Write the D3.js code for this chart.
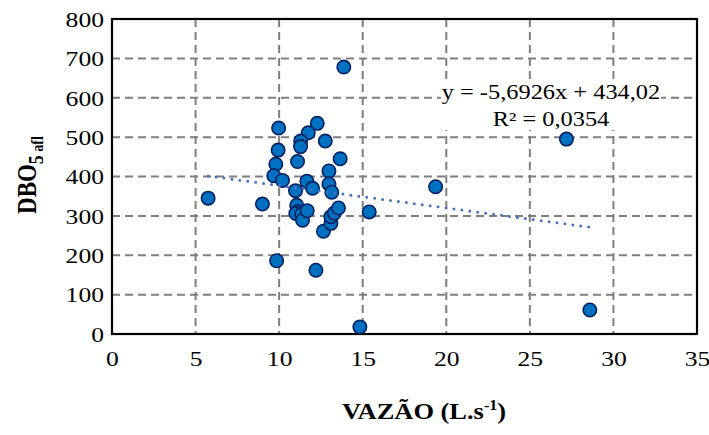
<!DOCTYPE html>
<html>
<head>
<meta charset="utf-8">
<script src="https://cdn.jsdelivr.net/npm/d3@7"></script>
<style>
  body { margin: 0; background: #fff; }
  text { font-family: "Liberation Serif", "Times New Roman", serif; fill: #000; }
</style>
</head>
<body>
<svg id="chart" width="709" height="435"></svg>
<script>
// Flow (L/s) and BOD5 of the influent (mg/L) for each sample
const vazao = [5.75, 9.0, 9.85, 12.2, 14.83, 19.36, 27.19, 28.59, 13.87, 9.97,
  12.28, 11.74, 11.29, 11.28, 12.76, 9.94, 9.8, 11.1, 13.65, 9.68,
  10.2, 12.98, 12.98, 11.66, 12.0, 10.98, 13.15, 15.39, 11.05, 11.12,
  11.0, 11.34, 11.4, 11.68, 12.65, 13.1, 13.1, 13.3, 13.55];
const dbo = [345, 330, 186, 162, 18, 374, 495, 61, 678, 523,
  535, 511, 490, 476, 490, 467, 431, 438, 445, 402,
  390, 414, 381, 388, 370, 364, 360, 310, 327, 311,
  306, 304, 289, 313, 261, 281, 298, 307, 320];

const xTicks = [0, 5, 10, 15, 20, 25, 30, 35];
const yTicks = [0, 100, 200, 300, 400, 500, 600, 700, 800];

// Linear trendline fitted to the data
const slope = -5.6926, intercept = 434.02;
const eqLabel = "y = -5,6926x + 434,02";
const r2Label = "R² = 0,0354";

const svg = d3.select("#chart");
const plot = { left: 112, right: 697, top: 19, bottom: 334 };
const stretch = 1.22; // wide letterform used for all labels

const x = d3.scaleLinear().domain([0, 35]).range([plot.left, plot.right]);
const y = d3.scaleLinear().domain([0, 800]).range([plot.bottom, plot.top]);

// dashed gridlines
const grid = svg.append("g").attr("stroke", "#7f7f7f").attr("stroke-width", 2)
  .attr("stroke-dasharray", "8,5");
grid.selectAll("line.v").data(xTicks.slice(1, -1)).join("line")
  .attr("x1", d => x(d)).attr("x2", d => x(d))
  .attr("y1", plot.top).attr("y2", plot.bottom);
grid.selectAll("line.h").data(yTicks.slice(1, -1)).join("line")
  .attr("x1", plot.left).attr("x2", plot.right)
  .attr("y1", d => y(d)).attr("y2", d => y(d));

// plot frame
svg.append("rect")
  .attr("x", plot.left).attr("y", plot.top)
  .attr("width", plot.right - plot.left).attr("height", plot.bottom - plot.top)
  .attr("fill", "none").attr("stroke", "#000").attr("stroke-width", 2.2);

// axes (labels only)
const xAxis = svg.append("g").attr("transform", `translate(0,${plot.bottom})`)
  .call(d3.axisBottom(x).tickValues(xTicks).tickSize(0).tickPadding(0).tickFormat(d3.format("d")));
xAxis.select(".domain").remove();
xAxis.selectAll("text")
  .attr("y", 32).attr("dy", 0)
  .attr("transform", `scale(${stretch},1)`)
  .style("font-size", "21px").style("font-family", "Liberation Serif");

const yAxis = svg.append("g").attr("transform", `translate(${plot.left},0)`)
  .call(d3.axisLeft(y).tickValues(yTicks).tickSize(0).tickPadding(0).tickFormat(d3.format("d")));
yAxis.select(".domain").remove();
yAxis.selectAll("text")
  .attr("x", -8 / stretch).attr("dy", "0.35em")
  .attr("transform", `scale(${stretch},1)`)
  .style("font-size", "21px").style("font-family", "Liberation Serif");

// data points
const pts = vazao.map((v, i) => ({ v, d: dbo[i] }));
svg.append("g").selectAll("circle").data(pts).join("circle")
  .attr("cx", p => x(p.v)).attr("cy", p => y(p.d)).attr("r", 6.7)
  .attr("fill", "#0070C0").attr("stroke", "#002060").attr("stroke-width", 1.6);

// dotted trendline across the observed flow range
const [xmin, xmax] = d3.extent(vazao);
svg.append("line")
  .attr("x1", x(xmin)).attr("y1", y(slope * xmin + intercept))
  .attr("x2", x(xmax)).attr("y2", y(slope * xmax + intercept))
  .attr("stroke", "#4472C4").attr("stroke-width", 3)
  .attr("stroke-linecap", "round").attr("stroke-dasharray", "0,8");

// equation label
const eq = svg.append("g").attr("transform", "translate(551,0)");
eq.append("rect").attr("x", -110).attr("y", 82).attr("width", 220).attr("height", 48).attr("fill", "#fff");
[[eqLabel, 99], [r2Label, 126]].forEach(([t, by]) => {
  eq.append("text").attr("transform", `translate(0,${by}) scale(${stretch},1)`)
    .attr("text-anchor", "middle").style("font-size", "20px").text(t);
});

// axis titles
const xt = svg.append("text")
  .attr("transform", `translate(424,419) scale(1.15,1)`)
  .attr("text-anchor", "middle").style("font-size", "23px").style("font-weight", "bold");
xt.append("tspan").text("VAZÃO (L.s");
xt.append("tspan").attr("dy", -9).style("font-size", "14px").text("-1");
xt.append("tspan").attr("dy", 9).text(")");

const yt = svg.append("text")
  .attr("transform", `translate(36,175) scale(1.15,1) rotate(-90)`)
  .attr("text-anchor", "middle").style("font-weight", "bold").style("font-size", "23px");
yt.append("tspan").text("DBO");
yt.append("tspan").attr("dy", 6).style("font-size", "18px").text("5");
yt.append("tspan").style("font-size", "14px").text(" afl");
</script>
</body>
</html>
